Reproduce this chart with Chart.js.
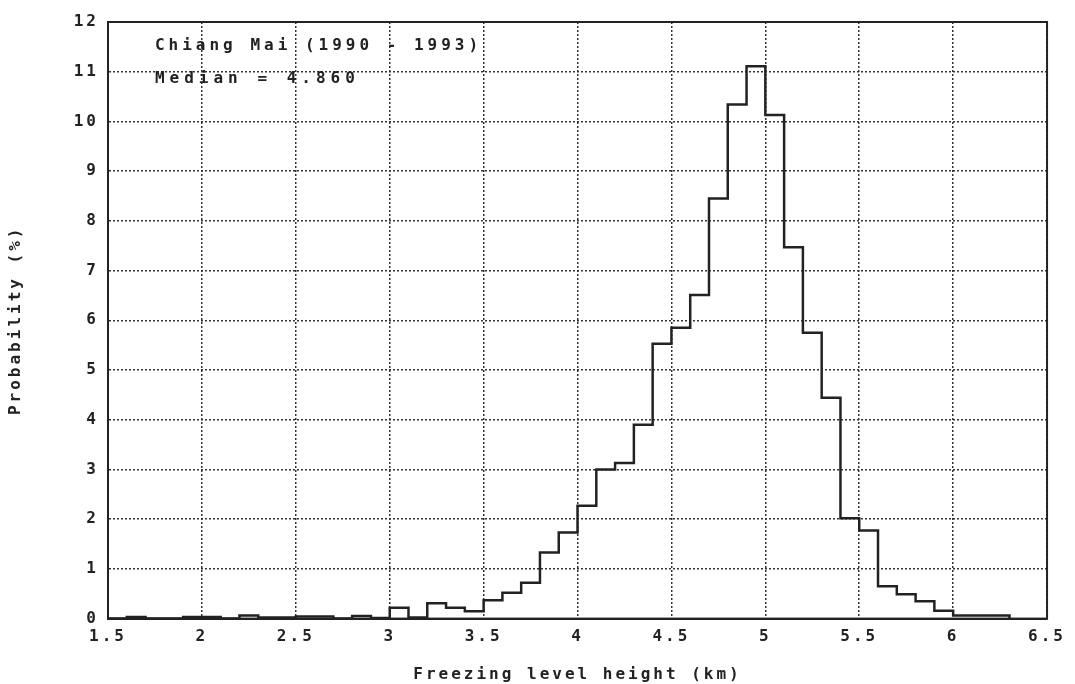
<!DOCTYPE html>
<html lang="en">
<head>
  <meta charset="UTF-8">
  <title>Freezing level height - Chiang Mai</title>
  <script src="https://cdn.jsdelivr.net/npm/chart.js"></script>
  <style>
    html, body { margin: 0; padding: 0; background: #fff; }
    canvas { display: block; }
  </style>
</head>
<body>
  <canvas id="myChart" width="1075" height="684"></canvas>

  <script>
    // left edge of each 0.1 km bin (km)
    const binStart = [1.5, 1.6, 1.7, 1.8, 1.9, 2.0, 2.1, 2.2, 2.3, 2.4,
                      2.5, 2.6, 2.7, 2.8, 2.9, 3.0, 3.1, 3.2, 3.3, 3.4,
                      3.5, 3.6, 3.7, 3.8, 3.9, 4.0, 4.1, 4.2, 4.3, 4.4,
                      4.5, 4.6, 4.7, 4.8, 4.9, 5.0, 5.1, 5.2, 5.3, 5.4,
                      5.5, 5.6, 5.7, 5.8, 5.9, 6.0, 6.1, 6.2];
    const lastBinEnd = 6.3;
    // probability (%)
    const probability = [0, 0.03, 0, 0, 0.03, 0.03, 0, 0.06, 0.02, 0.02,
                         0.04, 0.04, 0, 0.05, 0.01, 0.22, 0.02, 0.31, 0.22, 0.15,
                         0.37, 0.52, 0.72, 1.33, 1.73, 2.27, 3.0, 3.13, 3.9, 5.53,
                         5.85, 6.51, 8.45, 10.34, 11.11, 10.13, 7.47, 5.75, 4.44, 2.02,
                         1.77, 0.65, 0.49, 0.35, 0.16, 0.06, 0.06, 0.06];
    const xTicks = [1.5, 2, 2.5, 3, 3.5, 4, 4.5, 5, 5.5, 6, 6.5];
    const yTicks = [0, 1, 2, 3, 4, 5, 6, 7, 8, 9, 10, 11, 12];
    const notes = ['Chiang Mai (1990 - 1993)', 'Median = 4.860'];

    const ink = '#222';
    const fontFamily = '"DejaVu Sans Mono", "Liberation Mono", monospace';
    const axisFont = { family: fontFamily, size: 16, weight: 'bold' };

    const points = binStart.map((x, i) => ({ x: x, y: probability[i] }));
    points.push({ x: lastBinEnd, y: 0 });

    // wide, bitmap-like lettering
    const spacing = {
      id: 'spacing',
      beforeUpdate(chart) { chart.ctx.letterSpacing = '3px'; },
      beforeDraw(chart) { chart.ctx.letterSpacing = '3px'; }
    };

    // solid frame round the plot and the two text lines
    const frameAndNotes = {
      id: 'frameAndNotes',
      afterDraw(chart) {
        const { ctx, chartArea: a, scales } = chart;
        ctx.save();
        ctx.strokeStyle = ink;
        ctx.lineWidth = 2;
        ctx.strokeRect(a.left, a.top, a.right - a.left, a.bottom - a.top);
        ctx.fillStyle = ink;
        ctx.font = 'bold 16px ' + fontFamily;
        ctx.textBaseline = 'middle';
        ctx.textAlign = 'left';
        const x0 = scales.x.getPixelForValue(1.75);
        ctx.letterSpacing = '4px';
        ctx.fillText(notes[0], x0, scales.y.getPixelForValue(11.53));
        ctx.letterSpacing = '5px';
        ctx.fillText(notes[1], x0, scales.y.getPixelForValue(10.86));
        ctx.restore();
      }
    };

    const ctx = document.getElementById('myChart').getContext('2d');

    new Chart(ctx, {
      type: 'line',
      data: {
        datasets: [{
          label: 'Probability',
          data: points,
          stepped: 'before',
          borderColor: ink,
          borderWidth: 2.5,
          pointRadius: 0,
          fill: false
        }]
      },
      options: {
        responsive: false,
        animation: false,
        layout: { padding: { left: 6, right: 22, top: 22, bottom: 0 } },
        plugins: {
          legend: { display: false },
          tooltip: { enabled: false }
        },
        scales: {
          x: {
            type: 'linear',
            min: 1.5,
            max: 6.5,
            afterBuildTicks: s => { s.ticks = xTicks.map(v => ({ value: v })); },
            ticks: {
              color: ink,
              font: axisFont,
              padding: 9,
              maxRotation: 0,
              autoSkip: false,
              callback: v => String(v)
            },
            grid: { color: '#333', lineWidth: 1.5, drawTicks: false },
            border: { display: true, color: ink, width: 2, dash: [2, 2] },
            title: {
              display: true,
              text: 'Freezing level height (km)',
              color: ink,
              font: axisFont,
              padding: { top: 9, bottom: 0 }
            }
          },
          y: {
            min: 0,
            max: 12,
            afterBuildTicks: s => { s.ticks = yTicks.map(v => ({ value: v })); },
            afterFit: s => { s.width = 102; },
            ticks: {
              color: ink,
              font: axisFont,
              padding: 9
            },
            grid: { color: '#333', lineWidth: 1.5, drawTicks: false },
            border: { display: true, color: ink, width: 2, dash: [2, 2] },
            title: {
              display: true,
              text: 'Probability (%)',
              color: ink,
              font: axisFont,
              padding: { top: 0, bottom: 0 }
            }
          }
        }
      },
      plugins: [spacing, frameAndNotes]
    });
  </script>
</body>
</html>
